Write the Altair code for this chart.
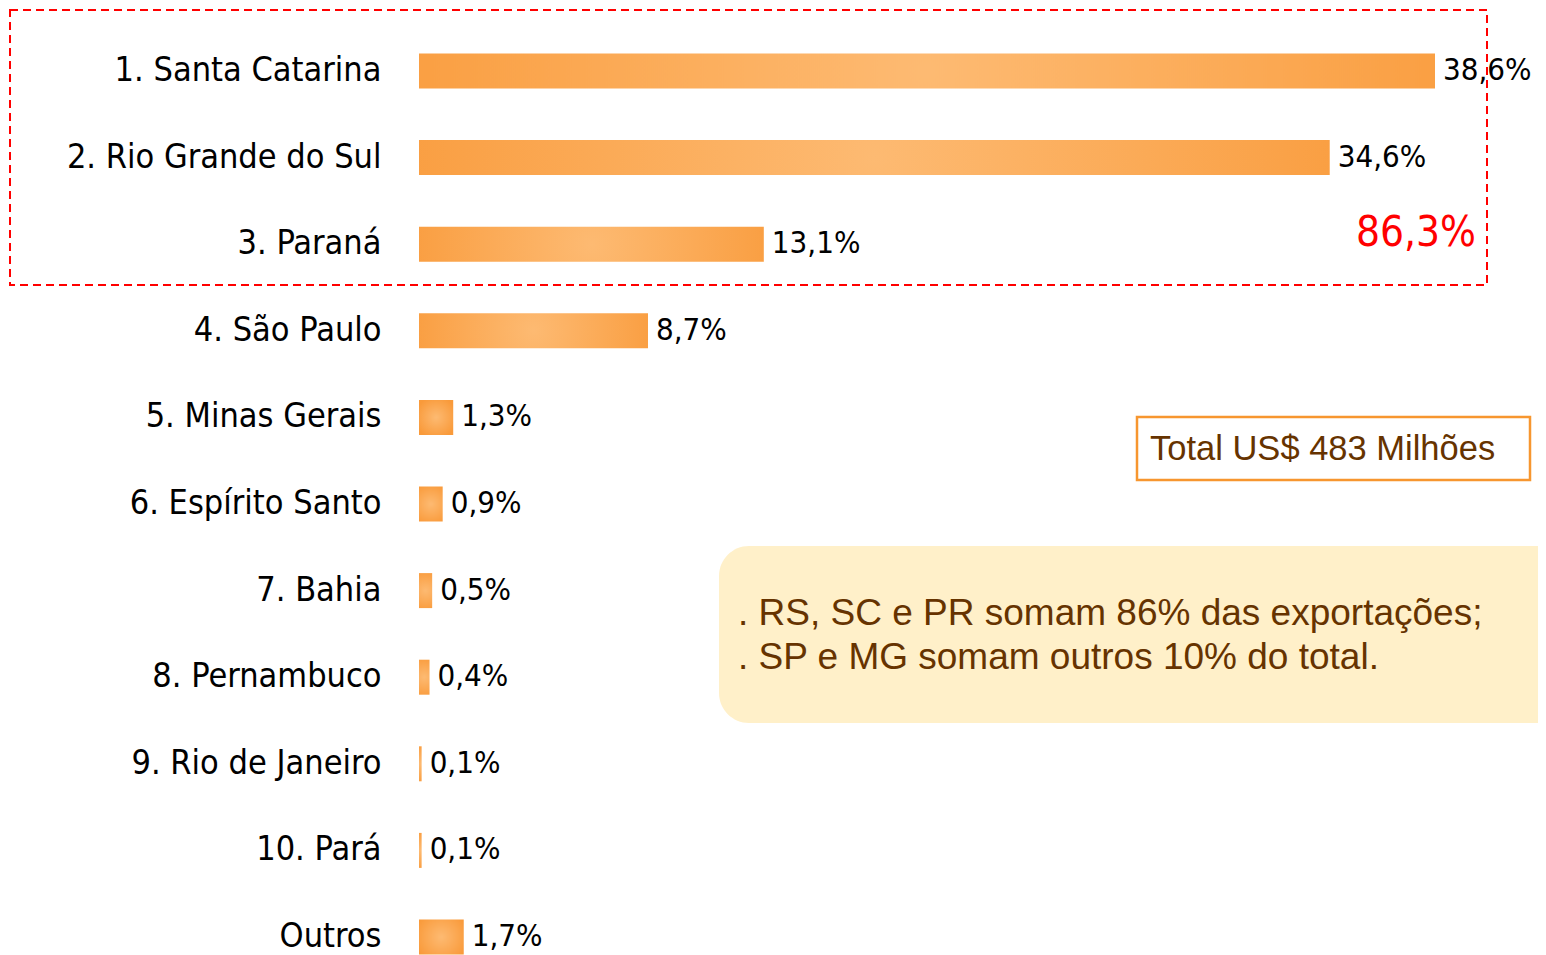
import altair as alt
import pandas as pd

categories = ["1. Santa Catarina", "2. Rio Grande do Sul", "3. Paraná", "4. São Paulo",
              "5. Minas Gerais", "6. Espírito Santo", "7. Bahia", "8. Pernambuco",
              "9. Rio de Janeiro", "10. Pará", "Outros"]
shares = [38.6, 34.6, 13.1, 8.7, 1.3, 0.9, 0.5, 0.4, 0.1, 0.1, 1.7]
top3_total = ["86,3%"]
total_label = ["Total US$ 483 Milhões"]
notes = [". RS, SC e PR somam 86% das exportações;", ". SP e MG somam outros 10% do total."]

LABEL_FONT = "DejaVu Sans Condensed, Liberation Sans, sans-serif"
NOTE_FONT = "Liberation Sans, Arial, sans-serif"
BROWN = "#663300"

df = pd.DataFrame({"state": categories, "share": shares})
one = pd.DataFrame({"k": [0]})

bar_fill = alt.Gradient(
    gradient="radial",
    stops=[alt.GradientStop(color="#FDBA72", offset=0),
           alt.GradientStop(color="#F99A3A", offset=1)],
    x1=0.5, y1=0.5, x2=0.5, y2=0.5, r1=0, r2=0.6,
)

y_enc = alt.Y("state:N", sort=categories,
              scale=alt.Scale(paddingInner=51.6 / 86.6, paddingOuter=0),
              axis=alt.Axis(title=None, domain=False, ticks=False, grid=False,
                            labelPadding=38, labelFontSize=34, labelFont=LABEL_FONT,
                            labelColor="black", labelLimit=500))
x_enc = alt.X("share:Q", scale=alt.Scale(domain=[0, 38.6], nice=False, zero=True), axis=None)

bars = alt.Chart(df).mark_bar(color=bar_fill, size=35).encode(y=y_enc, x=x_enc)

values = alt.Chart(df).transform_calculate(
    label="replace(format(datum.share, '.1f'), '.', ',') + '%'"
).mark_text(align="left", baseline="middle", dx=8, fontSize=31, font=LABEL_FONT,
            color="black").encode(y=alt.Y("state:N", sort=categories), x="share:Q", text="label:N")

dashed = alt.Chart(one).mark_rect(fillOpacity=0, stroke="#FF0000", strokeWidth=2,
                                  strokeDash=[8, 5]).encode(
    x=alt.value(-409), x2=alt.value(1068), y=alt.value(-43.5), y2=alt.value(231.5))

top3 = alt.Chart(pd.DataFrame({"t": top3_total})).mark_text(
    align="right", baseline="alphabetic", fontSize=42, font=LABEL_FONT, color="#FF0000"
).encode(x=alt.value(1057), y=alt.value(192.5), text="t:N")

total_box = alt.Chart(one).mark_rect(fill="white", stroke="#F7962F", strokeWidth=2.5).encode(
    x=alt.value(718), x2=alt.value(1111), y=alt.value(363.5), y2=alt.value(426.5))

total_txt = alt.Chart(pd.DataFrame({"t": total_label})).mark_text(
    align="left", baseline="alphabetic", fontSize=34.5, font=NOTE_FONT, color=BROWN
).encode(x=alt.value(731), y=alt.value(406.5), text="t:N")

note_box = alt.Chart(one).mark_rect(fill="#FFF0C9", cornerRadius=30).encode(
    x=alt.value(300), x2=alt.value(1160), y=alt.value(492.5), y2=alt.value(669.5))

note1 = alt.Chart(pd.DataFrame({"t": [notes[0]]})).mark_text(
    align="left", baseline="alphabetic", fontSize=37, font=NOTE_FONT, color=BROWN
).encode(x=alt.value(319), y=alt.value(571.5), text="t:N")

note2 = alt.Chart(pd.DataFrame({"t": [notes[1]]})).mark_text(
    align="left", baseline="alphabetic", fontSize=37, font=NOTE_FONT, color=BROWN
).encode(x=alt.value(319), y=alt.value(615.5), text="t:N")

chart = alt.layer(
    note_box, total_box, bars, values, dashed, top3, total_txt, note1, note2
).properties(
    width=1016, height=901,
    padding={"left": 411, "top": 45.5, "right": 103, "bottom": 0},
    autosize=alt.AutoSizeParams(type="none"),
    background="white",
).configure_view(stroke=None)

chart.save("out.html", embed_options={"renderer": "svg", "actions": False})
